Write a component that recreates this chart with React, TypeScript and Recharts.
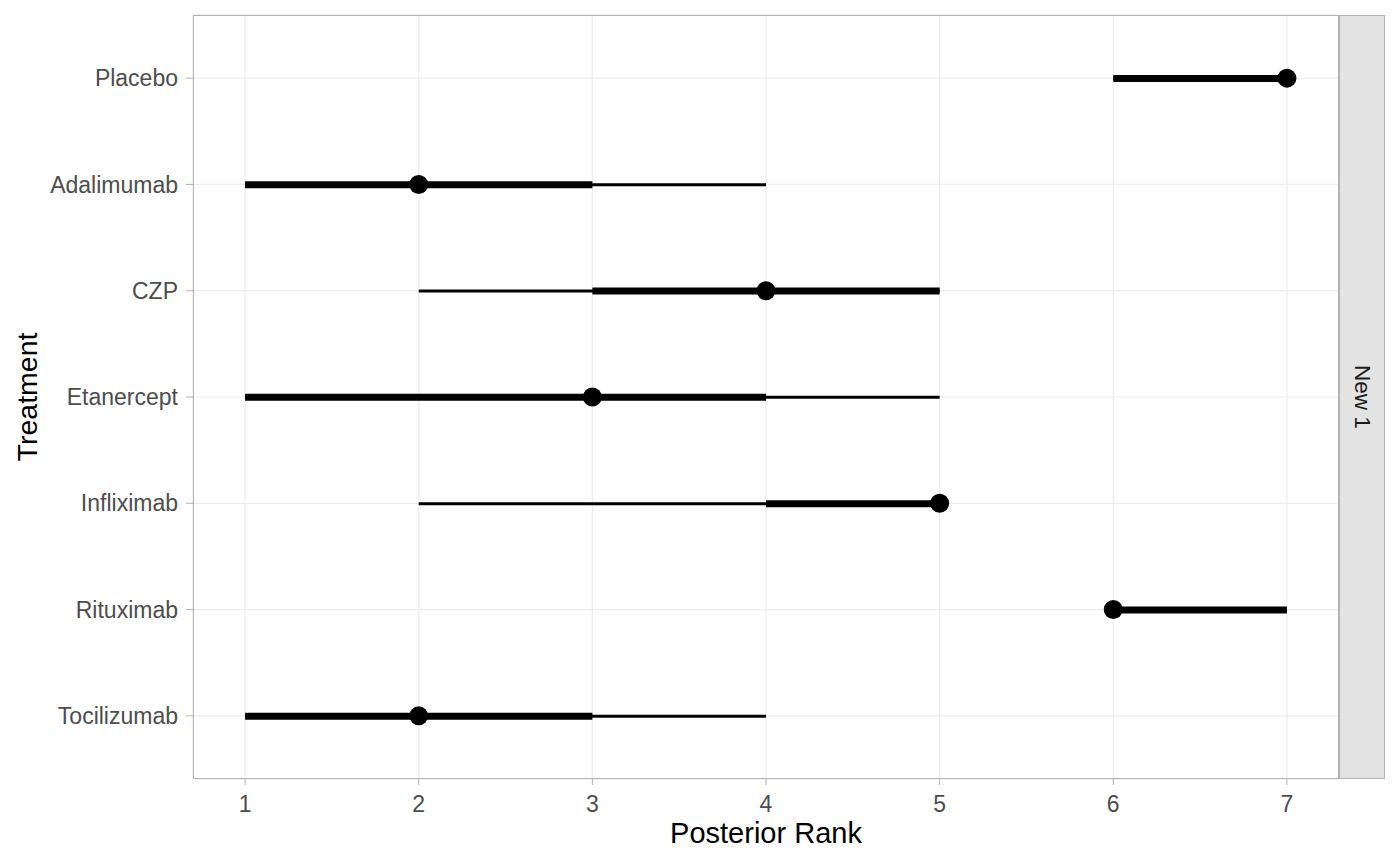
import { Bar, CartesianGrid, ComposedChart, Line, XAxis, YAxis } from 'recharts';

const treatments = ['Placebo', 'Adalimumab', 'CZP', 'Etanercept', 'Infliximab', 'Rituximab', 'Tocilizumab'];
const medianRank = [7, 2, 4, 3, 5, 6, 2];
const innerLow = [6, 1, 3, 1, 4, 6, 1];
const innerHigh = [7, 3, 5, 4, 5, 7, 3];
const outerLow = [6, 1, 2, 1, 2, 6, 1];
const outerHigh = [7, 4, 5, 5, 5, 7, 4];
const rankTicks = [1, 2, 3, 4, 5, 6, 7];
const facetLabel = 'New 1';

const chartData = treatments.map((name, i) => ({
  name,
  median: medianRank[i],
  inner: [innerLow[i], innerHigh[i]],
  outer: [outerLow[i], outerHigh[i]],
}));

const tickStyle = { fontSize: 23, fill: '#4d4d4d' };

export default function App() {
  return (
    <div style={{ position: 'absolute', left: 0, top: 0, width: 1400, height: 865, fontFamily: '"Liberation Sans", Arial, sans-serif', background: '#fff' }}>
      <ComposedChart width={1400} height={865} data={chartData} layout="vertical" margin={{ top: 15, right: 61, bottom: 0, left: 0 }}>
        <CartesianGrid yAxisId="main" stroke="#ededed" strokeWidth={1.2} />
        <XAxis
          type="number"
          domain={[0.7, 7.3]}
          allowDataOverflow
          ticks={rankTicks}
          interval={0}
          height={86}
          axisLine={false}
          tickLine={{ stroke: '#b3b3b3' }}
          tickSize={6}
          tickMargin={11}
          tick={tickStyle}
          label={{ value: 'Posterior Rank', position: 'insideBottom', offset: 22, style: { fontSize: 29, fill: '#000' } }}
        />
        <YAxis
          yAxisId="main"
          type="category"
          dataKey="name"
          width={193}
          padding={{ top: 10, bottom: 10 }}
          axisLine={false}
          tickLine={{ stroke: '#b3b3b3' }}
          tickSize={7}
          tickMargin={8}
          tick={tickStyle}
          interval={0}
          label={{ value: 'Treatment', angle: -90, position: 'insideLeft', offset: 27, style: { fontSize: 28.5, fill: '#000', textAnchor: 'middle' } }}
        />
        <YAxis yAxisId="thick" type="category" dataKey="name" hide padding={{ top: 10, bottom: 10 }} />
        <Bar yAxisId="main" dataKey="outer" barSize={3} fill="#000" isAnimationActive={false} />
        <Bar yAxisId="thick" dataKey="inner" barSize={7} fill="#000" isAnimationActive={false} />
        <Line
          yAxisId="main"
          dataKey="median"
          stroke="none"
          dot={{ r: 9.5, fill: '#000', stroke: 'none' }}
          activeDot={false}
          isAnimationActive={false}
        />
      </ComposedChart>
      <div style={{ position: 'absolute', left: 193, top: 15, width: 1146, height: 764, boxSizing: 'border-box', border: '1px solid #b3b3b3', pointerEvents: 'none' }} />
      <div
        style={{
          position: 'absolute',
          left: 1338,
          top: 15,
          width: 47,
          height: 764,
          boxSizing: 'border-box',
          border: '1px solid #b3b3b3',
          borderLeft: '2px solid #b3b3b3',
          background: '#e3e3e3',
          display: 'flex',
          alignItems: 'center',
          justifyContent: 'center',
        }}
      >
        <span style={{ writingMode: 'vertical-rl', fontSize: 22.5, color: '#1a1a1a' }}>{facetLabel}</span>
      </div>
    </div>
  );
}
